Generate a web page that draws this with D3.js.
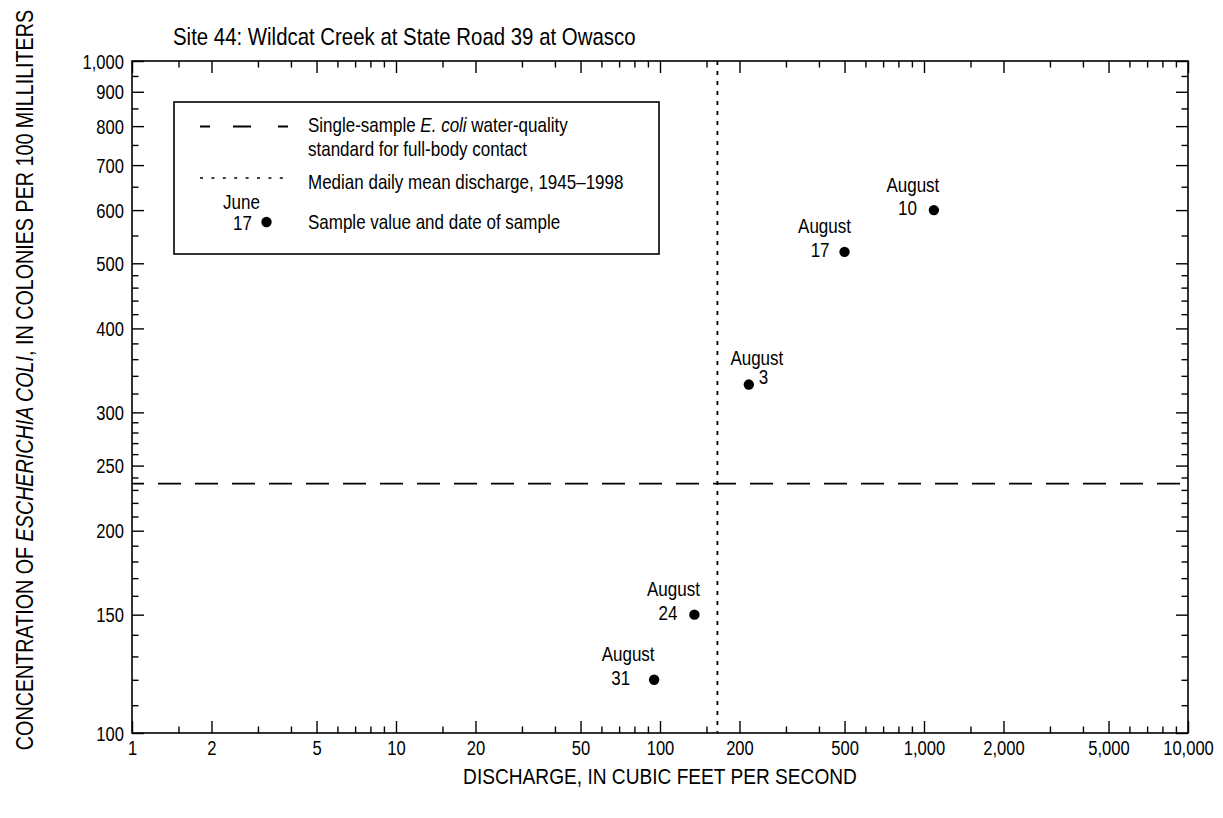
<!DOCTYPE html>
<html>
<head>
<meta charset="utf-8">
<script src="https://cdn.jsdelivr.net/npm/d3@7"></script>
<style>
  html, body { margin: 0; padding: 0; background: #fff; }
  svg text { font-family: "Liberation Sans", Arial, Helvetica, sans-serif; fill: #000; }
</style>
</head>
<body>
<svg id="chart" width="1223" height="818"></svg>
<script>
// Sample data: Site 44, Wildcat Creek at State Road 39 at Owasco
const sampleMonths = ["August", "August", "August", "August", "August"];
const sampleDays = ["10", "17", "3", "24", "31"];
const discharge = [1090, 500, 217, 135, 95];        // cubic feet per second
const ecoli = [600, 520, 330, 150, 120];             // colonies per 100 mL

const ecoliStandard = 235;      // single-sample full-body contact standard
const medianDischarge = 165;    // median daily mean discharge, 1945–1998

const xTickValues = [1, 2, 5, 10, 20, 50, 100, 200, 500, 1000, 2000, 5000, 10000];
const xTickLabels = ["1", "2", "5", "10", "20", "50", "100", "200", "500", "1,000", "2,000", "5,000", "10,000"];
const yTickValues = [100, 150, 200, 250, 300, 400, 500, 600, 700, 800, 900, 1000];
const yTickLabels = ["100", "150", "200", "250", "300", "400", "500", "600", "700", "800", "900", "1,000"];

const svg = d3.select("#chart");
const plotLeft = 132, plotRight = 1188, plotTop = 61, plotBottom = 733;

const x = d3.scaleLog().domain([1, 10000]).range([plotLeft, plotRight]);
const y = d3.scaleLog().domain([100, 1000]).range([plotBottom, plotTop]);

// minor tick positions
const xMinor = [];
[1, 10, 100, 1000].forEach(d => [1.5, 3, 4, 6, 7, 8, 9].forEach(m => xMinor.push(m * d)));
const yMinor = [];
for (let v = 110; v < 300; v += 10) if (!yTickValues.includes(v)) yMinor.push(v);
for (let v = 320; v < 500; v += 20) if (!yTickValues.includes(v)) yMinor.push(v);
for (let v = 550; v < 1000; v += 50) if (!yTickValues.includes(v)) yMinor.push(v);

const majorLen = 12, minorLen = 6.5;
const tickFont = 19.5, labelFont = 20, titleFont = 24, axisTitleFont = 23.2;

function styleAxis(g) {
  g.select(".domain").remove();
  g.selectAll(".tick line").attr("stroke", "#000").attr("stroke-width", 1.4);
}

// bottom axis (labels)
svg.append("g").attr("transform", `translate(0,${plotBottom})`)
  .call(d3.axisBottom(x).tickValues(xTickValues).tickSize(-majorLen)
    .tickFormat((d, i) => xTickLabels[i]))
  .call(styleAxis)
  .call(g => g.selectAll(".tick text").attr("y", 22).attr("dy", null)
    .attr("font-size", tickFont).attr("font-family", null));
svg.append("g").attr("transform", `translate(0,${plotBottom})`)
  .call(d3.axisBottom(x).tickValues(xMinor).tickSize(-minorLen).tickFormat(""))
  .call(styleAxis);
// top axis (mirror)
svg.append("g").attr("transform", `translate(0,${plotTop})`)
  .call(d3.axisTop(x).tickValues(xTickValues).tickSize(-majorLen).tickFormat(""))
  .call(styleAxis);
svg.append("g").attr("transform", `translate(0,${plotTop})`)
  .call(d3.axisTop(x).tickValues(xMinor).tickSize(-minorLen).tickFormat(""))
  .call(styleAxis);

// left axis (labels)
svg.append("g").attr("transform", `translate(${plotLeft},0)`)
  .call(d3.axisLeft(y).tickValues(yTickValues).tickSize(-majorLen)
    .tickFormat((d, i) => yTickLabels[i]))
  .call(styleAxis)
  .call(g => g.selectAll(".tick text").attr("x", -8).attr("dy", "0.36em")
    .attr("font-size", tickFont).attr("font-family", null));
svg.append("g").attr("transform", `translate(${plotLeft},0)`)
  .call(d3.axisLeft(y).tickValues(yMinor).tickSize(-minorLen).tickFormat(""))
  .call(styleAxis);
// right axis (mirror)
svg.append("g").attr("transform", `translate(${plotRight},0)`)
  .call(d3.axisRight(y).tickValues(yTickValues).tickSize(-majorLen).tickFormat(""))
  .call(styleAxis);
svg.append("g").attr("transform", `translate(${plotRight},0)`)
  .call(d3.axisRight(y).tickValues(yMinor).tickSize(-minorLen).tickFormat(""))
  .call(styleAxis);

// frame
svg.append("rect").attr("x", plotLeft).attr("y", plotTop)
  .attr("width", plotRight - plotLeft).attr("height", plotBottom - plotTop)
  .attr("fill", "none").attr("stroke", "#000").attr("stroke-width", 1.6);

// water-quality standard (long dashes)
svg.append("line")
  .attr("x1", plotLeft).attr("x2", plotRight)
  .attr("y1", y(ecoliStandard)).attr("y2", y(ecoliStandard))
  .attr("stroke", "#000").attr("stroke-width", 1.8)
  .attr("stroke-dasharray", "23,14").attr("stroke-dashoffset", 11);

// median daily mean discharge (dotted)
svg.append("line")
  .attr("x1", x(medianDischarge)).attr("x2", x(medianDischarge))
  .attr("y1", plotTop).attr("y2", plotBottom)
  .attr("stroke", "#000").attr("stroke-width", 1.8)
  .attr("stroke-dasharray", "4,6");

// label layout for each sample (month above, day to the left of the dot)
const labelLayout = [
  { mx: -21, my: -18.5, dx: -17, dy: 5, anchor: "end" },
  { mx: -20, my: -18.5, dx: -15, dy: 5, anchor: "end" },
  { mx: 8,   my: -20, dx: 10,  dy: -0.5, anchor: "start" },
  { mx: -21, my: -18.5, dx: -17, dy: 5.5, anchor: "end" },
  { mx: -26, my: -18.5, dx: -24, dy: 5.5, anchor: "end" }
];

const pts = svg.append("g").selectAll("g")
  .data(discharge.map((q, i) => ({ q, c: ecoli[i], month: sampleMonths[i], day: sampleDays[i], lay: labelLayout[i] })))
  .join("g")
  .attr("transform", d => `translate(${x(d.q)},${y(d.c)})`);
pts.append("circle").attr("r", 5.2).attr("fill", "#000");
pts.append("text").attr("x", d => d.lay.mx).attr("y", d => d.lay.my)
  .attr("text-anchor", "middle").attr("font-size", labelFont).text(d => d.month);
pts.append("text").attr("x", d => d.lay.dx).attr("y", d => d.lay.dy)
  .attr("text-anchor", d => d.lay.anchor).attr("font-size", labelFont).text(d => d.day);

// legend
const lg = svg.append("g");
lg.append("rect").attr("x", 174).attr("y", 102).attr("width", 485).attr("height", 152)
  .attr("fill", "#fff").attr("stroke", "#000").attr("stroke-width", 1.6);
lg.append("line").attr("x1", 200).attr("x2", 288).attr("y1", 126.5).attr("y2", 126.5)
  .attr("stroke", "#000").attr("stroke-width", 1.8).attr("stroke-dasharray", "10,23,18,27,10");
const t1 = lg.append("text").attr("x", 308).attr("y", 132).attr("font-size", labelFont);
t1.append("tspan").text("Single-sample ");
t1.append("tspan").attr("font-style", "italic").text("E. coli");
t1.append("tspan").text(" water-quality");
lg.append("text").attr("x", 308).attr("y", 156).attr("font-size", labelFont).text("standard for full-body contact");
lg.append("line").attr("x1", 200).attr("x2", 290).attr("y1", 178).attr("y2", 178)
  .attr("stroke", "#000").attr("stroke-width", 1.6).attr("stroke-dasharray", "3,8.4");
lg.append("text").attr("x", 308).attr("y", 189).attr("font-size", labelFont).text("Median daily mean discharge, 1945\u20131998");
lg.append("text").attr("x", 241.5).attr("y", 209).attr("text-anchor", "middle").attr("font-size", labelFont).text("June");
lg.append("text").attr("x", 252).attr("y", 230.5).attr("text-anchor", "end").attr("font-size", labelFont).text("17");
lg.append("circle").attr("cx", 266.5).attr("cy", 222).attr("r", 5.2).attr("fill", "#000");
lg.append("text").attr("x", 308).attr("y", 229).attr("font-size", labelFont).text("Sample value and date of sample");

// title
svg.append("text").attr("x", 173).attr("y", 45).attr("font-size", titleFont)
  .text("Site 44: Wildcat Creek at State Road 39 at Owasco");

// axis titles
svg.append("text").attr("x", (plotLeft + plotRight) / 2).attr("y", 784).attr("text-anchor", "middle")
  .attr("font-size", 22.5).text("DISCHARGE, IN CUBIC FEET PER SECOND");
const yt = svg.append("text").attr("transform", "translate(33,380) rotate(-90)")
  .attr("text-anchor", "middle").attr("font-size", axisTitleFont);
yt.append("tspan").text("CONCENTRATION OF ");
yt.append("tspan").attr("font-style", "italic").text("ESCHERICHIA COLI");
yt.append("tspan").text(", IN COLONIES PER 100 MILLILITERS");

// narrow lettering throughout: squeeze each text horizontally about its anchor x
svg.selectAll("text").each(function () {
  const sel = d3.select(this);
  const ax = +(sel.attr("x") || 0);
  const base = sel.attr("transform") || "";
  sel.attr("transform", `${base} translate(${ax},0) scale(0.85,1) translate(${-ax},0)`.trim());
});
</script>
</body>
</html>
